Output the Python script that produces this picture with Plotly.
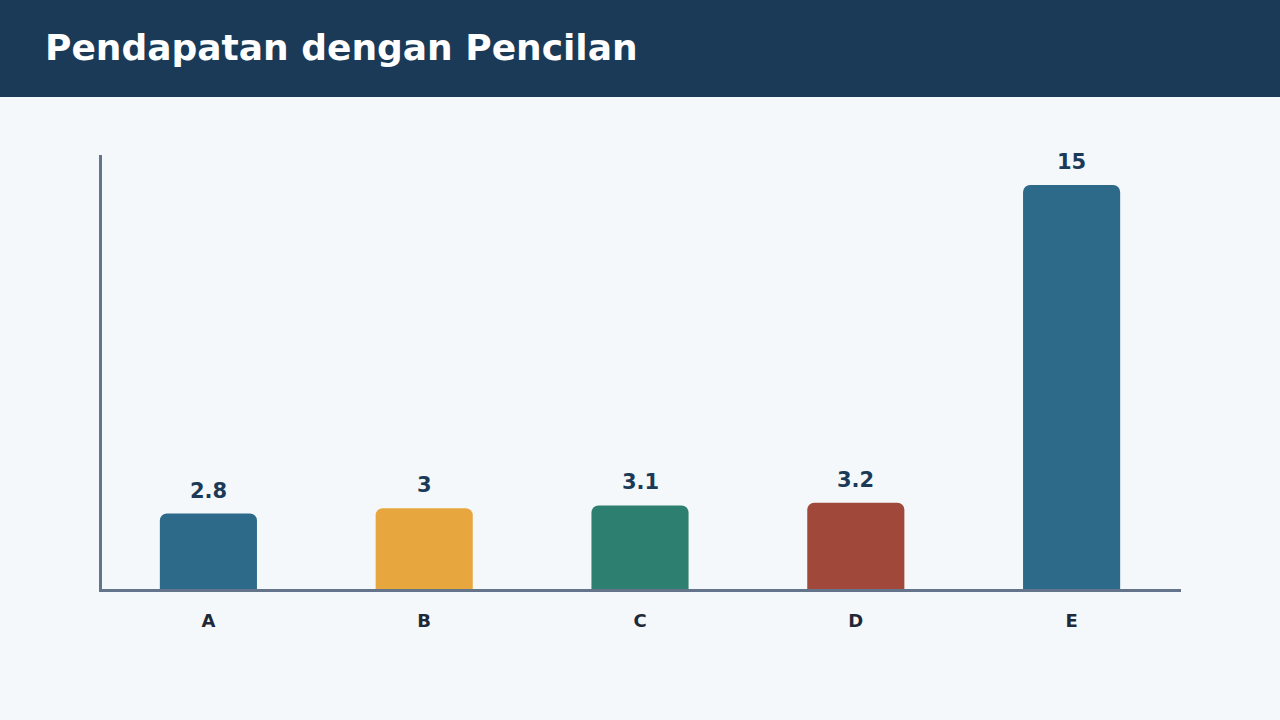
import plotly.graph_objects as go

categories = ["A", "B", "C", "D", "E"]
values = [2.8, 3, 3.1, 3.2, 15]
value_labels = ["2.8", "3", "3.1", "3.2", "15"]
bar_colors = ["#2d6a8a", "#e7a63e", "#2d7f70", "#a0483a", "#2d6a8a"]
title_text = "Pendapatan dengan Pencilan"

BG = "#f4f8fb"
NAVY = "#1a3a57"
AXIS = "#64748b"

fig = go.Figure()
fig.add_trace(go.Bar(
    x=categories, y=values,
    marker=dict(color=bar_colors, cornerradius=7, line=dict(width=0)),
    hoverinfo="skip",
))

for c, v, t in zip(categories, values, value_labels):
    fig.add_annotation(x=c, y=v, text=f"<b>{t}</b>", showarrow=False,
                       yanchor="bottom", yshift=9,
                       font=dict(family="DejaVu Sans", size=21, color=NAVY))

fig.add_shape(type="rect", xref="paper", yref="paper", x0=-1, x1=2,
              y0=(589 - 97) / 434, y1=2, fillcolor=NAVY, line=dict(width=0), layer="above")

fig.update_layout(
    width=1280, height=720,
    paper_bgcolor=BG, plot_bgcolor=BG,
    margin=dict(l=101.5, r=98.5, t=155, b=131),
    bargap=0.55,
    showlegend=False,
    title=dict(text=f"<b>{title_text}</b>", xref="container", yref="container",
               x=45 / 1280, xanchor="left", y=1 - 47 / 720, yanchor="middle",
               font=dict(family="DejaVu Sans", size=36, color="white")),
    xaxis=dict(range=[-0.5 + 1.5 / 216, 4.5 + 1.5 / 216],
               showline=True, linecolor=AXIS, linewidth=3, showgrid=False,
               ticks="", tickfont=dict(family="DejaVu Sans", size=18, color="#1f2937"),
               tickprefix="<b>", ticksuffix="</b>", ticklabelstandoff=13),
    yaxis=dict(range=[0, 16.11], showline=True, linecolor=AXIS, linewidth=3,
               showgrid=False, zeroline=False, showticklabels=False, ticks=""),
)

fig.write_html("out.html", config={"displayModeBar": False},
               post_script="document.body.style.margin='0';")
